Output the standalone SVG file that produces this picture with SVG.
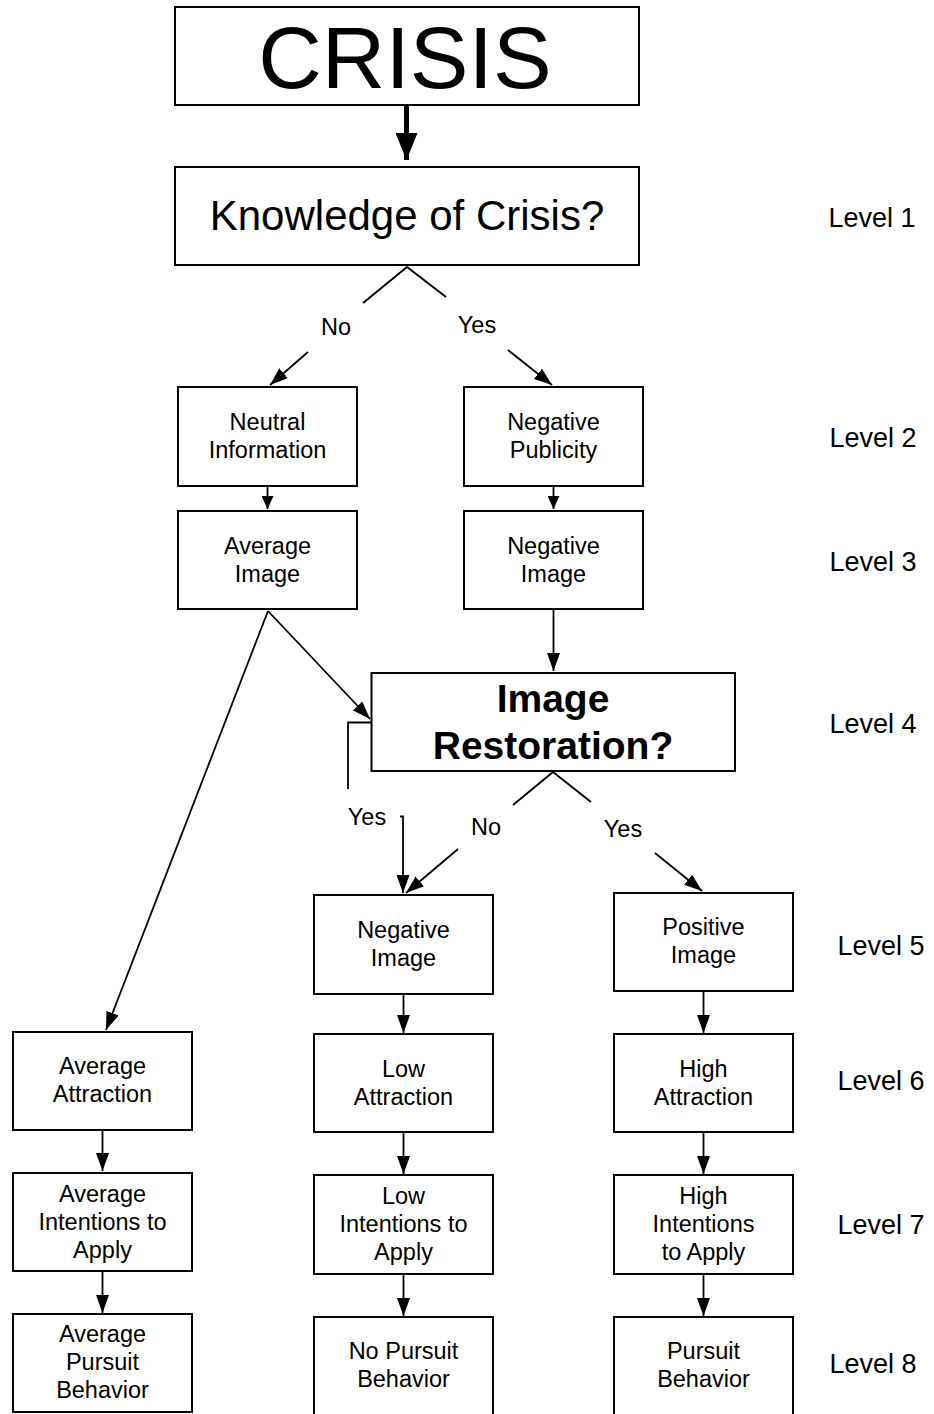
<svg xmlns="http://www.w3.org/2000/svg" width="934" height="1414" viewBox="0 0 934 1414">
<style>
.box{fill:#fff;stroke:#000;stroke-width:2}
.t{font-family:"Liberation Sans",Arial,sans-serif;font-size:23.5px;text-anchor:middle;fill:#000}
.lv{font-family:"Liberation Sans",Arial,sans-serif;font-size:27px;text-anchor:middle;fill:#000}
.ln{fill:none;stroke:#000;stroke-width:1.8}
</style>
<defs>
<marker id="sm" markerUnits="userSpaceOnUse" markerWidth="13" markerHeight="12" refX="13" refY="6" orient="auto"><path d="M0,0 L13,6 L0,12 Z" fill="#000"/></marker>
<marker id="md" markerUnits="userSpaceOnUse" markerWidth="18" markerHeight="13" refX="18" refY="6.5" orient="auto"><path d="M0,0 L18,6.5 L0,13 Z" fill="#000"/></marker>
<marker id="big" markerUnits="userSpaceOnUse" markerWidth="27" markerHeight="22" refX="27" refY="11" orient="auto"><path d="M0,0 L27,11 L0,22 Z" fill="#000"/></marker>
</defs>
<rect width="934" height="1414" fill="#fff"/>

<g id="connectors">
<line x1="406.5" y1="104" x2="406.5" y2="160" stroke="#000" stroke-width="5" marker-end="url(#big)"/>
<polyline class="ln" points="363,303 407,267 446,297"/>
<line class="ln" x1="308" y1="352" x2="270" y2="385" marker-end="url(#md)"/>
<line class="ln" x1="508" y1="350" x2="552" y2="385" marker-end="url(#md)"/>
<line class="ln" x1="267.5" y1="486" x2="267.5" y2="509" marker-end="url(#sm)"/>
<line class="ln" x1="553.5" y1="486" x2="553.5" y2="509" marker-end="url(#sm)"/>
<line class="ln" x1="553.5" y1="610" x2="553.5" y2="671" marker-end="url(#md)"/>
<line class="ln" x1="268" y1="611" x2="370" y2="719" marker-end="url(#md)"/>
<line class="ln" x1="268" y1="611" x2="106" y2="1030" marker-end="url(#md)"/>
<polyline class="ln" points="371,722.5 348,722.5 348,789"/>
<polyline class="ln" points="400,816.5 403,816.5 403,893" marker-end="url(#md)"/>
<polyline class="ln" points="513,805 553,772 591,802"/>
<line class="ln" x1="458" y1="849" x2="406" y2="893" marker-end="url(#md)"/>
<line class="ln" x1="655" y1="853" x2="702" y2="891" marker-end="url(#md)"/>
<line class="ln" x1="403.5" y1="994" x2="403.5" y2="1033" marker-end="url(#md)"/>
<line class="ln" x1="703.5" y1="991" x2="703.5" y2="1033" marker-end="url(#md)"/>
<line class="ln" x1="403.5" y1="1132" x2="403.5" y2="1174" marker-end="url(#md)"/>
<line class="ln" x1="703.5" y1="1132" x2="703.5" y2="1174" marker-end="url(#md)"/>
<line class="ln" x1="403.5" y1="1274" x2="403.5" y2="1316" marker-end="url(#md)"/>
<line class="ln" x1="703.5" y1="1274" x2="703.5" y2="1316" marker-end="url(#md)"/>
<line class="ln" x1="102.5" y1="1130" x2="102.5" y2="1171" marker-end="url(#md)"/>
<line class="ln" x1="102.5" y1="1271" x2="102.5" y2="1313" marker-end="url(#md)"/>
<text class="t" x="336" y="335">No</text>
<text class="t" x="477" y="333">Yes</text>
<text class="t" x="367" y="825">Yes</text>
<text class="t" x="486" y="835">No</text>
<text class="t" x="623" y="837">Yes</text>
</g>

<g id="crisis">
<rect class="box" x="175" y="7" width="464" height="98"/>
<text class="t" x="405" y="88" style="font-size:88px">CRISIS</text>
</g>
<g id="knowledge">
<rect class="box" x="175" y="167" width="464" height="98"/>
<text class="t" x="407" y="230" style="font-size:42px">Knowledge of Crisis?</text>
</g>
<g id="neutral-information">
<rect class="box" x="178" y="387" width="179" height="99"/>
<text class="t" x="267.5" y="430">Neutral</text>
<text class="t" x="267.5" y="458">Information</text>
</g>
<g id="negative-publicity">
<rect class="box" x="464" y="387" width="179" height="99"/>
<text class="t" x="553.5" y="430">Negative</text>
<text class="t" x="553.5" y="458">Publicity</text>
</g>
<g id="average-image">
<rect class="box" x="178" y="511" width="179" height="98"/>
<text class="t" x="267.5" y="554">Average</text>
<text class="t" x="267.5" y="582">Image</text>
</g>
<g id="negative-image-1">
<rect class="box" x="464" y="511" width="179" height="98"/>
<text class="t" x="553.5" y="554">Negative</text>
<text class="t" x="553.5" y="582">Image</text>
</g>
<g id="image-restoration">
<rect class="box" x="371.5" y="673" width="363.5" height="98"/>
<text class="t" x="553" y="712" style="font-size:39px;font-weight:bold">Image</text>
<text class="t" x="553" y="759" style="font-size:39px;font-weight:bold">Restoration?</text>
</g>
<g id="negative-image-2">
<rect class="box" x="314" y="895" width="179" height="99"/>
<text class="t" x="403.5" y="938">Negative</text>
<text class="t" x="403.5" y="966">Image</text>
</g>
<g id="positive-image">
<rect class="box" x="614" y="893" width="179" height="98"/>
<text class="t" x="703.5" y="935">Positive</text>
<text class="t" x="703.5" y="963">Image</text>
</g>
<g id="average-attraction">
<rect class="box" x="13" y="1032" width="179" height="98"/>
<text class="t" x="102.5" y="1074">Average</text>
<text class="t" x="102.5" y="1102">Attraction</text>
</g>
<g id="low-attraction">
<rect class="box" x="314" y="1034" width="179" height="98"/>
<text class="t" x="403.5" y="1077">Low</text>
<text class="t" x="403.5" y="1105">Attraction</text>
</g>
<g id="high-attraction">
<rect class="box" x="614" y="1034" width="179" height="98"/>
<text class="t" x="703.5" y="1077">High</text>
<text class="t" x="703.5" y="1105">Attraction</text>
</g>
<g id="average-intentions">
<rect class="box" x="13" y="1173" width="179" height="98"/>
<text class="t" x="102.5" y="1202">Average</text>
<text class="t" x="102.5" y="1230">Intentions to</text>
<text class="t" x="102.5" y="1258">Apply</text>
</g>
<g id="low-intentions">
<rect class="box" x="314" y="1175" width="179" height="99"/>
<text class="t" x="403.5" y="1204">Low</text>
<text class="t" x="403.5" y="1232">Intentions to</text>
<text class="t" x="403.5" y="1260">Apply</text>
</g>
<g id="high-intentions">
<rect class="box" x="614" y="1175" width="179" height="99"/>
<text class="t" x="703.5" y="1204">High</text>
<text class="t" x="703.5" y="1232">Intentions</text>
<text class="t" x="703.5" y="1260">to Apply</text>
</g>
<g id="average-pursuit">
<rect class="box" x="13" y="1314" width="179" height="98"/>
<text class="t" x="102.5" y="1342">Average</text>
<text class="t" x="102.5" y="1370">Pursuit</text>
<text class="t" x="102.5" y="1398">Behavior</text>
</g>
<g id="no-pursuit">
<rect class="box" x="314" y="1317" width="179" height="100"/>
<text class="t" x="403.5" y="1359">No Pursuit</text>
<text class="t" x="403.5" y="1387">Behavior</text>
</g>
<g id="pursuit-behavior">
<rect class="box" x="614" y="1317" width="179" height="100"/>
<text class="t" x="703.5" y="1359">Pursuit</text>
<text class="t" x="703.5" y="1387">Behavior</text>
</g>

<g id="levels">
<text class="lv" x="872" y="227">Level 1</text>
<text class="lv" x="873" y="447">Level 2</text>
<text class="lv" x="873" y="571">Level 3</text>
<text class="lv" x="873" y="733">Level 4</text>
<text class="lv" x="881" y="955">Level 5</text>
<text class="lv" x="881" y="1090">Level 6</text>
<text class="lv" x="881" y="1234">Level 7</text>
<text class="lv" x="873" y="1373">Level 8</text>
</g>
</svg>
